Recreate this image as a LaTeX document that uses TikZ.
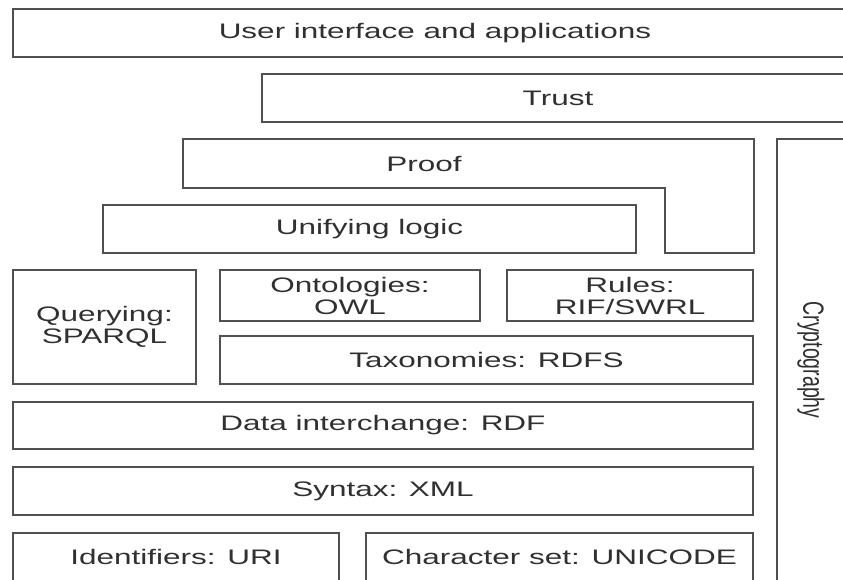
\documentclass[tikz,border=0pt]{standalone}
\usepackage{fontspec}
\setmainfont{Liberation Sans}[FakeStretch=1.5]
\newfontfamily\plainfont{Liberation Sans}
\usepackage{tikz}
\usetikzlibrary{positioning}
\definecolor{LayerLine}{HTML}{505050}
\definecolor{LayerText}{HTML}{303030}
\tikzset{
  % Box styles
  layerbox/.style={rectangle, draw=LayerLine, line width=1.4pt, inner sep=0pt, text=LayerText, font=\fontsize{21}{22}\selectfont, align=center},
  % Line styles
  layerline/.style={draw=LayerLine, line width=1.4pt}
}
\begin{document}
\begin{tikzpicture}[x=1pt, y=-1pt]
  \useasboundingbox (0,0) rectangle (843,579);
  \clip (0,0) rectangle (843,579);

  % Top layers
  \node[layerbox, minimum width=844pt, minimum height=48pt] (ui) at (435,33) {User interface and applications};
  \node[layerbox, minimum width=592pt, minimum height=48pt] (trust) at (558,98) {Trust};

  % Proof (stepped outline)
  \draw[layerline] (183,139) -- (754,139) -- (754,253) -- (665,253) -- (665,188) -- (183,188) -- cycle;
  \node[layerbox, draw=none] (proof) at (424,163.5) {Proof};

  % Cryptography column
  \draw[layerline] (860,139) -- (777,139) -- (777,600);
  \node[text=LayerText, rotate=-90, inner sep=0pt] (crypto) at (811,360) {\plainfont\fontsize{19.5}{20}\selectfont\scalebox{1}[1.5]{Cryptography}};

  % Logic and ontology layers
  \node[layerbox, minimum width=533pt, minimum height=48pt] (unify) at (369.5,229) {Unifying logic};
  \node[layerbox, minimum width=183pt, minimum height=114pt] (query) at (104.5,327) {Querying:\\SPARQL};
  \node[layerbox, minimum width=260pt, minimum height=51pt] (onto) at (350,295.5) {Ontologies:\\OWL};
  \node[layerbox, minimum width=246pt, minimum height=51pt] (rules) at (630,295.5) {Rules:\\RIF/SWRL};
  \node[layerbox, minimum width=533pt, minimum height=48pt] (taxo) at (486.5,360) {Taxonomies: RDFS};

  % Base layers
  \node[layerbox, minimum width=740pt, minimum height=47pt] (data) at (383,425.5) {Data interchange: RDF};
  \node[layerbox, minimum width=740pt, minimum height=48pt] (syntax) at (383,491) {Syntax: XML};
  \node[layerbox, minimum width=326pt, minimum height=48pt] (ident) at (176,557) {Identifiers: URI};
  \node[layerbox, minimum width=387pt, minimum height=48pt] (charset) at (559.5,557) {Character set: UNICODE};
\end{tikzpicture}
\end{document}
